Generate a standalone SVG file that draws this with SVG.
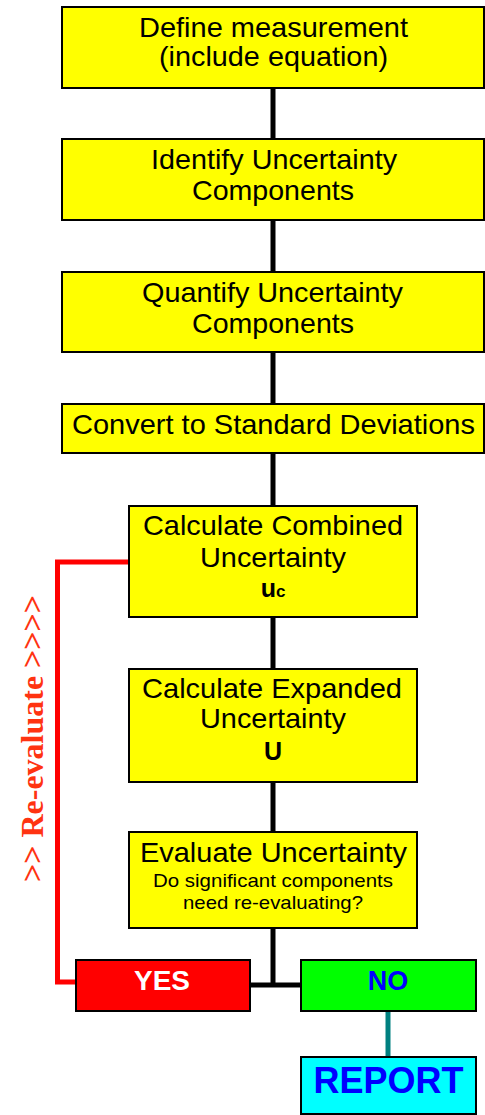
<svg xmlns="http://www.w3.org/2000/svg" width="485" height="1115" viewBox="0 0 485 1115">
<style>
.box{fill:#ffff00;stroke:#000;stroke-width:2}
.t{font-family:"Liberation Sans",Arial,sans-serif;font-size:28px;fill:#000;text-anchor:middle}
.s{font-family:"Liberation Sans",Arial,sans-serif;font-size:19px;fill:#000;text-anchor:middle}
.b{font-family:"Liberation Sans",Arial,sans-serif;font-weight:bold;text-anchor:middle}
.k{stroke:#000;stroke-width:5;fill:none}
</style>
<rect width="485" height="1115" fill="#fff"/>
<g id="connectors">
<line class="k" x1="273" y1="88" x2="273" y2="139"/>
<line class="k" x1="273" y1="220" x2="273" y2="273"/>
<line class="k" x1="273" y1="352" x2="273" y2="404"/>
<line class="k" x1="273" y1="453" x2="273" y2="506"/>
<line class="k" x1="273" y1="617" x2="273" y2="669"/>
<line class="k" x1="273" y1="782" x2="273" y2="832"/>
<line class="k" x1="273" y1="928" x2="273" y2="987"/>
<line class="k" x1="250" y1="985" x2="301" y2="985"/>
<line x1="388" y1="1011" x2="388" y2="1057" stroke="#008080" stroke-width="5"/>
<polyline points="129,562 57.5,562 57.5,982 76,982" fill="none" stroke="#ff0000" stroke-width="5"/>
<text transform="translate(43,738.5) rotate(-90)" font-family="'Liberation Serif','Times New Roman',serif" font-weight="bold" font-size="32" fill="#ff3311" text-anchor="middle" textLength="287" lengthAdjust="spacingAndGlyphs">&gt;&gt; Re-evaluate &gt;&gt;&gt;&gt;</text>
</g>
<g id="n1">
<rect class="box" x="62" y="7" width="422" height="81"/>
<text class="t" x="273.5" y="37" textLength="269" lengthAdjust="spacingAndGlyphs">Define measurement</text>
<text class="t" x="273.5" y="66" textLength="229" lengthAdjust="spacingAndGlyphs">(include equation)</text>
</g>
<g id="n2">
<rect class="box" x="62" y="139" width="422" height="81"/>
<text class="t" x="274" y="169" textLength="246" lengthAdjust="spacingAndGlyphs">Identify Uncertainty</text>
<text class="t" x="273" y="200" textLength="162" lengthAdjust="spacingAndGlyphs">Components</text>
</g>
<g id="n3">
<rect class="box" x="62" y="272" width="422" height="80"/>
<text class="t" x="272.5" y="302" textLength="261" lengthAdjust="spacingAndGlyphs">Quantify Uncertainty</text>
<text class="t" x="273" y="333" textLength="162" lengthAdjust="spacingAndGlyphs">Components</text>
</g>
<g id="n4">
<rect class="box" x="62" y="404" width="422" height="49"/>
<text class="t" x="273.5" y="434" textLength="403" lengthAdjust="spacingAndGlyphs">Convert to Standard Deviations</text>
</g>
<g id="n5">
<rect class="box" x="129" y="506" width="288" height="111"/>
<text class="t" x="273" y="535" textLength="260" lengthAdjust="spacingAndGlyphs">Calculate Combined</text>
<text class="t" x="273" y="567" textLength="146" lengthAdjust="spacingAndGlyphs">Uncertainty</text>
<text class="b" x="273" y="597" font-size="25">u<tspan font-size="17">c</tspan></text>
</g>
<g id="n6">
<rect class="box" x="129" y="669" width="288" height="113"/>
<text class="t" x="272" y="698" textLength="260" lengthAdjust="spacingAndGlyphs">Calculate Expanded</text>
<text class="t" x="273" y="728" textLength="146" lengthAdjust="spacingAndGlyphs">Uncertainty</text>
<text class="b" x="273" y="760" font-size="25">U</text>
</g>
<g id="n7">
<rect class="box" x="129" y="832" width="288" height="96"/>
<text class="t" x="273.5" y="862" textLength="267" lengthAdjust="spacingAndGlyphs">Evaluate Uncertainty</text>
<text class="s" x="273" y="887" textLength="240" lengthAdjust="spacingAndGlyphs">Do significant components</text>
<text class="s" x="273" y="909" textLength="180" lengthAdjust="spacingAndGlyphs">need re-evaluating?</text>
</g>
<g id="yes">
<rect x="76" y="960" width="174" height="51" fill="#ff0000" stroke="#000" stroke-width="2"/>
<text class="b" x="162" y="990" font-size="28" fill="#fff">YES</text>
</g>
<g id="no">
<rect x="301" y="960" width="175" height="51" fill="#00ff00" stroke="#000" stroke-width="2"/>
<text class="b" x="388" y="990" font-size="27" fill="#0000ff">NO</text>
</g>
<g id="report">
<rect x="301" y="1057" width="175" height="57" fill="#00ffff" stroke="#000" stroke-width="2"/>
<text class="b" x="388.5" y="1093" font-size="36" fill="#0000ff">REPORT</text>
</g>
</svg>
